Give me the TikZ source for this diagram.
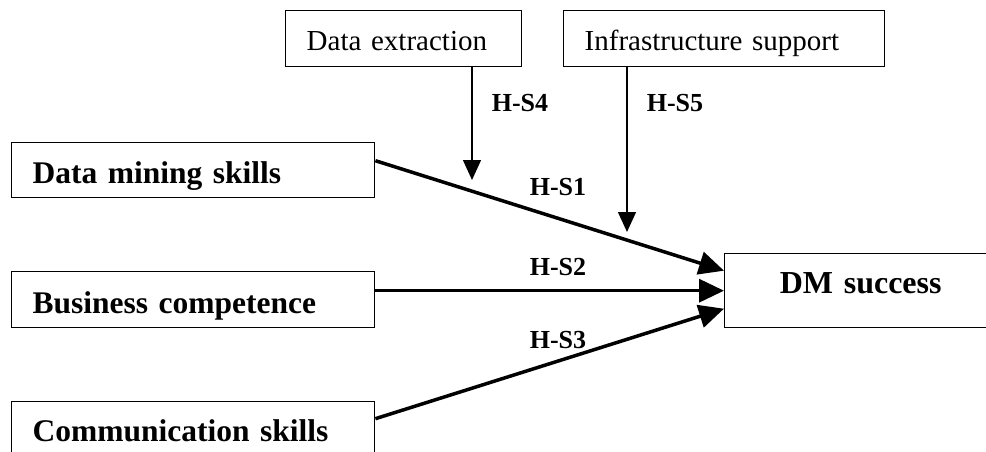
\documentclass[tikz,border=0pt]{standalone}
\usepackage{fontspec}
\setmainfont{Liberation Serif}
\usetikzlibrary{arrows.meta}

\begin{document}
\begin{tikzpicture}[x=1pt, y=1pt,
    caja/.style={draw=black, line width=1.4pt, anchor=north west,
      inner xsep=21pt, inner ysep=0pt, align=left},
    modera/.style={caja, font=\fontsize{29}{32}\selectfont, minimum height=56pt,
      text height=24pt, text depth=0pt},
    factor/.style={caja, font=\fontsize{31.5}{36}\selectfont\bfseries, minimum height=56pt,
      text height=27pt, text depth=0pt},
    etiqueta/.style={font=\fontsize{26}{28}\selectfont\bfseries, inner sep=0pt},
    efecto/.style={line width=3.5pt, -{Triangle[length=25pt,width=23pt]}},
    modflecha/.style={line width=1.4pt, -{Triangle[length=20pt,width=18pt]}}]

  \useasboundingbox (0,0) rectangle (986,-452);

  % ── Moderadores ───────────────────────────────────────────
  \node[modera, text width=194pt] (dext) at (285,-10) {Data extraction};
  \node[modera, text width=279pt] (infra) at (563,-10) {Infrastructure support};

  % ── Factores ──────────────────────────────────────────────
  \node[factor, text width=321pt, minimum height=55pt] (dms) at (11,-142) {Data mining skills};
  \node[factor, text width=321pt] (bus) at (11,-271) {Business competence};
  \node[factor, text width=321pt, minimum height=52pt] (com) at (11,-401) {Communication skills};

  % ── Resultado ─────────────────────────────────────────────
  \node[caja, font=\fontsize{32}{36}\selectfont\bfseries, align=center,
        text width=230pt, minimum height=74pt,
        text height=13pt, text depth=7pt] (dmsucc) at (724,-253) {DM success};

  % ── Efectos directos ──────────────────────────────────────
  \draw[efecto] ([yshift=9.5pt]dms.east) -- ([yshift=20pt]dmsucc.west);
  \draw[efecto] ([yshift=9pt]bus.east) -- (dmsucc.west);
  \draw[efecto] ([yshift=9pt]com.east) -- ([yshift=-18pt]dmsucc.west);

  % ── Efectos moderadores ───────────────────────────────────
  \coordinate (t4) at (472,-180);
  \coordinate (t5) at (627,-232);
  \draw[modflecha] (t4 |- dext.south) -- (t4);
  \draw[modflecha] (t5 |- infra.south) -- (t5);

  % ── Hipótesis ─────────────────────────────────────────────
  \node[etiqueta] (hs4) at (520,-103) {H-S4};
  \node[etiqueta] (hs5) at (675,-103) {H-S5};
  \node[etiqueta] (hs1) at (558,-187) {H-S1};
  \node[etiqueta] (hs2) at (558,-267) {H-S2};
  \node[etiqueta] (hs3) at (558,-340) {H-S3};

\end{tikzpicture}
\end{document}
